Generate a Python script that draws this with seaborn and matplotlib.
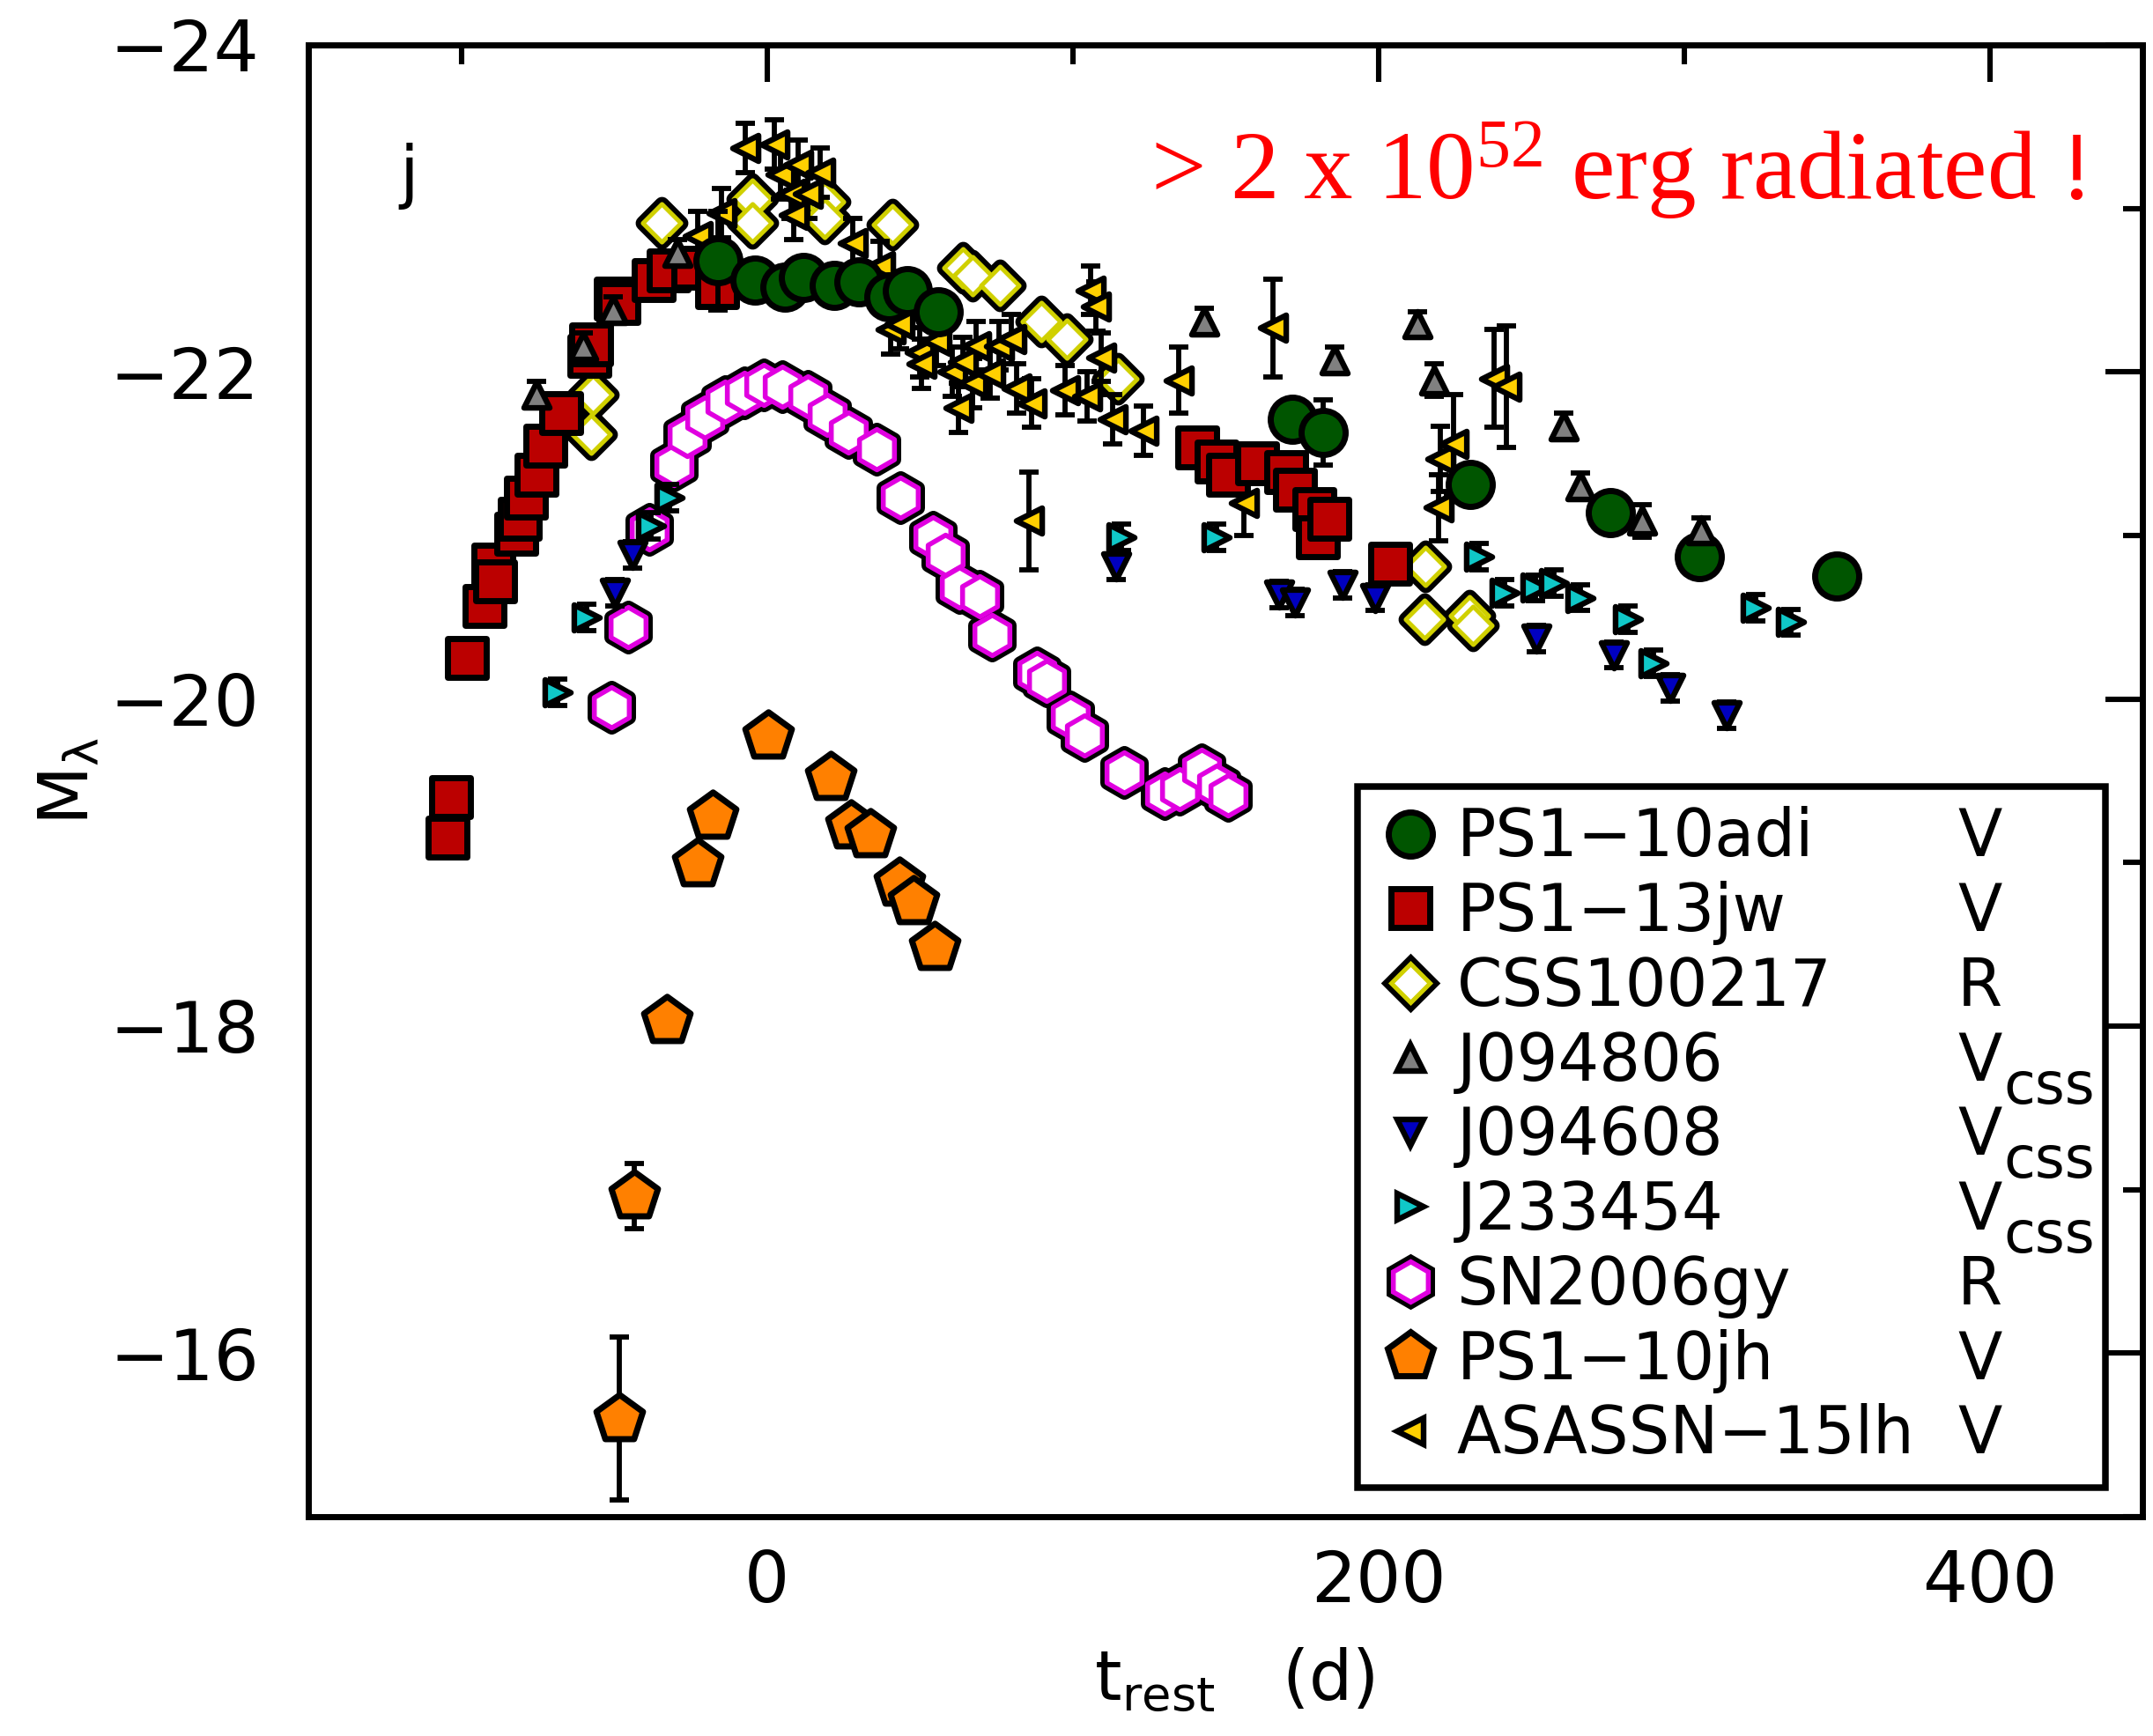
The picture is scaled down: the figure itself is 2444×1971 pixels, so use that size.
import matplotlib
matplotlib.use("Agg")
import matplotlib.pyplot as plt
import numpy as np
import pandas as pd
import seaborn as sns
from matplotlib.lines import Line2D
from matplotlib.ticker import MultipleLocator
from matplotlib.transforms import ScaledTranslation

# ---------------- data ----------------
names = ["PS1−10adi", "PS1−13jw", "CSS100217", "J094806", "J094608",
         "J233454", "SN2006gy", "PS1−10jh", "ASASSN−15lh"]
bands = ["V", "V", "R", "V", "V", "V", "R", "V", "V"]
band_subs = ["", "", "", "css", "css", "css", "", "", ""]

adi_t = [-16, -4, 6, 12, 22, 30, 40, 46, 56, 172, 182, 230, 276, 305, 350]
adi_m = [-22.68, -22.56, -22.52, -22.58, -22.53, -22.55, -22.46, -22.5, -22.37,
         -21.71, -21.63, -21.31, -21.14, -20.87, -20.75]
adi_e = [0.3, 0.05, 0.05, 0.05, 0.05, 0.05, 0.05, 0.05, 0.05, 0.1, 0.2, 0.08, 0.05, 0.05, 0.05]

jw_t = [-104.5, -103.2, -98.1, -92.3, -89.6, -89.0, -82.0, -80.7, -78.9, -75.5, -72.4,
        -67.2, -58.2, -57.5, -49.4, -48.5, -36.9, -32.0, -24.0, -16.3, 140.7, 147.0,
        150.8, 160.5, 170.0, 172.7, 179.0, 180.3, 184.0, 204.0]
jw_m = [-19.15, -19.4, -20.25, -20.57, -20.82, -20.72, -21.01, -21.1, -21.23, -21.37,
        -21.55, -21.75, -22.1, -22.17, -22.45, -22.42, -22.56, -22.62, -22.64, -22.52,
        -21.54, -21.45, -21.37, -21.44, -21.39, -21.28, -21.16, -20.99, -21.1, -20.83]

css_t = [-57.5, -57, -34.3, -4.7, -4.7, 19, 19, 41.2, 64, 67.3, 76.2, 89.7, 98.1,
         114.8, 215.5, 215, 229.9, 231]
css_m = [-21.62, -21.86, -22.91, -23.06, -22.91, -23.04, -22.94, -22.9, -22.64, -22.59,
         -22.53, -22.31, -22.2, -21.96, -20.81, -20.49, -20.51, -20.45]

j0948_t = [-75.5, -60, -50.4, -29.2, 143.1, 185.6, 212.8, 218.3, 260.8, 266.2, 286.3, 305.6]
j0948_m = [-21.86, -22.16, -22.38, -22.73, -22.31, -22.07, -22.29, -21.95, -21.67, -21.3,
           -21.09, -21.03]
j0948_e = [0.08, 0.08, 0.08, 0.08, 0.08, 0.08, 0.08, 0.1, 0.08, 0.08, 0.1, 0.08]

j0946_t = [-49.8, -44, 114.2, 167.6, 172.7, 188.2, 199, 251.6, 277, 295.5, 314]
j0946_m = [-20.65, -20.88, -20.81, -20.64, -20.59, -20.7, -20.62, -20.37, -20.27, -20.07, -19.9]
j0946_e = [0.08] * 11

j2334_t = [-68.5, -58.8, -38, -31.8, 116.1, 147, 233, 241.4, 251.4, 257.5, 266, 281.6,
           290, 323.4, 335.1]
j2334_m = [-20.04, -20.5, -21.06, -21.23, -20.99, -20.99, -20.87, -20.65, -20.68, -20.71,
           -20.62, -20.49, -20.22, -20.56, -20.47]
j2334_e = [0.08] * 15

gy_t = [-51, -45.3, -38.5, -30.5, -26, -20.2, -13.7, -7.3, -0.9, 4.9, 13.3, 19.7, 26.7,
        35.8, 43.6, 54.3, 58.5, 63, 69.6, 73.5, 88.3, 91.6, 99.3, 103.8, 117, 130.2, 135,
        142.3, 147, 151]
gy_m = [-19.95, -20.44, -21.04, -21.43, -21.61, -21.72, -21.82, -21.87, -21.92, -21.91,
        -21.85, -21.74, -21.63, -21.53, -21.23, -20.99, -20.88, -20.68, -20.63, -20.39,
        -20.16, -20.11, -19.89, -19.78, -19.55, -19.42, -19.45, -19.57, -19.47, -19.41]

jh_t = [-48.2, -43.3, -32.8, -22.7, -17.6, 0.4, 21, 27.4, 34, 43.5, 48, 54.8]
jh_m = [-15.6, -16.96, -18.03, -18.99, -19.28, -19.77, -19.52, -19.22, -19.17, -18.87,
        -18.76, -18.48]
jh_e = [0.5, 0.2, 0.03, 0.03, 0.03, 0.03, 0.03, 0.03, 0.03, 0.03, 0.03, 0.03]

lh_t = [-22.5, -14.8, -7.1, 2.5, 4.4, 7.8, 8.7, 10.2, 13.5, 17.4, 28, 37.1, 40.5, 43.3,
        50, 50.5, 55.4, 60.6, 62.6, 64, 67.4, 68.3, 73.1, 76, 79.9, 81.8, 85.8, 86.6,
        97.6, 104.8, 105.8, 107.7, 109.3, 113, 123.1, 134.7, 156, 165.7, 219.6, 220.2,
        224.7, 238, 242]
lh_m = [-22.83, -22.97, -23.37, -23.39, -23.21, -23.09, -22.96, -23.27, -23.09, -23.22,
        -22.79, -22.65, -22.26, -22.29, -22.12, -22.05, -22.19, -22.0, -21.78, -22.06,
        -21.93, -22.16, -21.99, -22.16, -22.2, -21.9, -21.09, -21.81, -21.89, -21.85,
        -22.5, -22.4, -22.09, -21.71, -21.64, -21.95, -21.2, -22.27, -21.17, -21.47,
        -21.56, -21.96, -21.91]
lh_e = [0.15, 0.15, 0.15, 0.15, 0.15, 0.15, 0.15, 0.15, 0.15, 0.15, 0.15, 0.15, 0.15,
        0.15, 0.15, 0.15, 0.15, 0.15, 0.15, 0.15, 0.15, 0.15, 0.15, 0.15, 0.15, 0.15,
        0.3, 0.15, 0.15, 0.15, 0.15, 0.15, 0.15, 0.15, 0.15, 0.2, 0.2, 0.3, 0.2, 0.2,
        0.3, 0.3, 0.37]

# ---------------- style ----------------
sns.set_style("white")
plt.rcParams['font.family'] = ['DejaVu Sans']
plt.rcParams['mathtext.fontset'] = 'dejavusans'
plt.rcParams['axes.unicode_minus'] = True
for k in ['text.color', 'axes.labelcolor', 'xtick.color', 'ytick.color',
          'axes.edgecolor']:
    plt.rcParams[k] = 'black'

W, H = 2444, 1971
DPI = 200
fig = plt.figure(figsize=(W / DPI, H / DPI), dpi=DPI)
fig.patch.set_facecolor('white')
ax = fig.add_axes([350 / W, 1 - 1722 / H, (2432 - 350) / W, (1722 - 51) / H])

EW = 2.1  # error bar width


def errs(t, m, e, z):
    ax.errorbar(t, m, yerr=e, fmt='none', ecolor='black', elinewidth=EW,
                capsize=3.8, capthick=EW, zorder=z)


def scat(t, m, marker, ms, fc, lw, z, ec='black'):
    df = pd.DataFrame({'t': t, 'M': m})
    sns.scatterplot(data=df, x='t', y='M', marker=marker, s=ms ** 2, color=fc,
                    edgecolor=ec, linewidth=lw, ax=ax, legend=False, zorder=z)


GREEN = '#005500'
RED = '#bb0000'
RING_Y = '#d0d000'
GRAY = '#808080'
BLUE = '#0000c0'
CYAN = '#10c8c8'
MAG = '#e000e0'
ORANGE = '#ff8000'
GOLD = '#ffd000'

MS_TRI = 10.5
MS_CIR, MS_SQ, MS_DIA, MS_HEX, MS_PEN = 18, 15.5, 11, 16.5, 20
LW = 2.5

# SN2006gy hexagons (black outer, magenta ring, white center)
scat(gy_t, gy_m, 'h', MS_HEX, 'black', 5.5, 2.0)
scat(gy_t, gy_m, 'h', MS_HEX, 'white', 2.0, 2.1, ec=MAG)
# PS1-10jh pentagons
errs(jh_t, jh_m, jh_e, 2.2)
scat(jh_t, jh_m, 'p', MS_PEN, ORANGE, LW, 2.3)
# CSS100217 diamonds
scat(css_t, css_m, 'D', MS_DIA, 'black', 6.0, 2.4)
scat(css_t, css_m, 'D', MS_DIA, 'white', 1.8, 2.5, ec=RING_Y)
# ASASSN-15lh
errs(lh_t, lh_m, lh_e, 2.6)
scat(lh_t, lh_m, '<', MS_TRI, GOLD, 2.3, 2.7)
# PS1-13jw squares
scat(jw_t, jw_m, 's', MS_SQ, RED, LW, 2.8)
# PS1-10adi circles
errs(adi_t, adi_m, adi_e, 2.9)
scat(adi_t, adi_m, 'o', MS_CIR, GREEN, LW, 3.0)
# J094806
errs(j0948_t, j0948_m, j0948_e, 3.1)
scat(j0948_t, j0948_m, '^', MS_TRI, GRAY, 2.3, 3.2)
# J094608
errs(j0946_t, j0946_m, j0946_e, 3.3)
scat(j0946_t, j0946_m, 'v', MS_TRI, BLUE, 2.3, 3.4)
# J233454
errs(j2334_t, j2334_m, j2334_e, 3.5)
scat(j2334_t, j2334_m, '>', MS_TRI, CYAN, 2.3, 3.6)

# ---------------- axes ----------------
ax.set_xlim(-150, 450)
ax.set_ylim(-15, -24)
ax.xaxis.set_major_locator(MultipleLocator(200))
ax.xaxis.set_minor_locator(MultipleLocator(100))
ax.yaxis.set_major_locator(MultipleLocator(2))
ax.yaxis.set_minor_locator(MultipleLocator(1))
ax.tick_params(which='both', direction='in', top=True, right=True, width=2.2,
               color='black', labelcolor='black')
ax.tick_params(which='major', length=15)
ax.tick_params(which='minor', length=8)
ax.tick_params(axis='y', which='major', pad=20, labelsize=29)
ax.tick_params(axis='x', which='major', pad=13, labelsize=29)
for sp in ax.spines.values():
    sp.set_linewidth(2.5)
    sp.set_color('black')
    sp.set_visible(True)
ax.set_facecolor('white')
ax.grid(False)

ax.set_xlabel("t$_{\\mathregular{rest}}$   (d)", fontsize=28, color='black')
ax.xaxis.set_label_coords(0.505, -0.088)
ax.set_ylabel("M$_{\\mathregular{λ}}$", fontsize=28, color='black')
ax.yaxis.set_label_coords(-0.112, 0.5)

ax.text(-117, -23.2, "j", fontsize=28, ha='center', va='center', color='black')
ax.text(431, -23.06, "> 2 x 10$\\mathregular{^{52}}$ erg radiated !",
        fontsize=40, family='Liberation Serif', color='#ff0000',
        ha='right', va='baseline', zorder=6)

# ---------------- legend ----------------
def h(marker, ms, fc, mew, ec='black'):
    return Line2D([], [], linestyle='none', marker=marker, markersize=ms,
                  markerfacecolor=fc, markeredgecolor=ec, markeredgewidth=mew)


handles = [
    h('o', MS_CIR, GREEN, LW),
    h('s', MS_SQ, RED, LW),
    (h('D', MS_DIA, 'black', 6.0), h('D', MS_DIA, 'white', 1.8, RING_Y)),
    h('^', MS_TRI, GRAY, 2.3),
    h('v', MS_TRI, BLUE, 2.3),
    h('>', MS_TRI, CYAN, 2.3),
    (h('h', MS_HEX, 'black', 5.5), h('h', MS_HEX, 'white', 2.0, MAG)),
    h('p', MS_PEN, ORANGE, LW),
    h('<', MS_TRI, GOLD, 2.3),
]
LFS = 26.5
leg = ax.legend(handles, names, loc='lower left',
                bbox_to_anchor=(0.572, 0.020, 0.408, 0.483), mode='expand',
                borderaxespad=0, fontsize=LFS, labelspacing=0.16,
                handlelength=1.03, handletextpad=0.2, borderpad=0.3,
                frameon=True, fancybox=False, framealpha=1, edgecolor='black')
leg.get_frame().set_linewidth(2.7)
leg.set_zorder(10)
for t in leg.get_texts():
    t.set_color('black')

fig.canvas.draw()
inv = fig.transFigure.inverted()
for txt, band, sub in zip(leg.get_texts(), bands, band_subs):
    disp = txt.get_transform().transform(txt.get_position())
    xf, yf = inv.transform(disp)
    bt = fig.text(2222 / W, yf, band, fontsize=LFS, ha='left', va='baseline',
                  color='black', zorder=20)
    if sub:
        off = ScaledTranslation(0, -26 / DPI, fig.dpi_scale_trans)
        fig.text(2274 / W, yf, sub, fontsize=23.5, ha='left', va='baseline',
                 color='black', zorder=20, transform=fig.transFigure + off)

fig.savefig('out.png', dpi=DPI, facecolor='white')
